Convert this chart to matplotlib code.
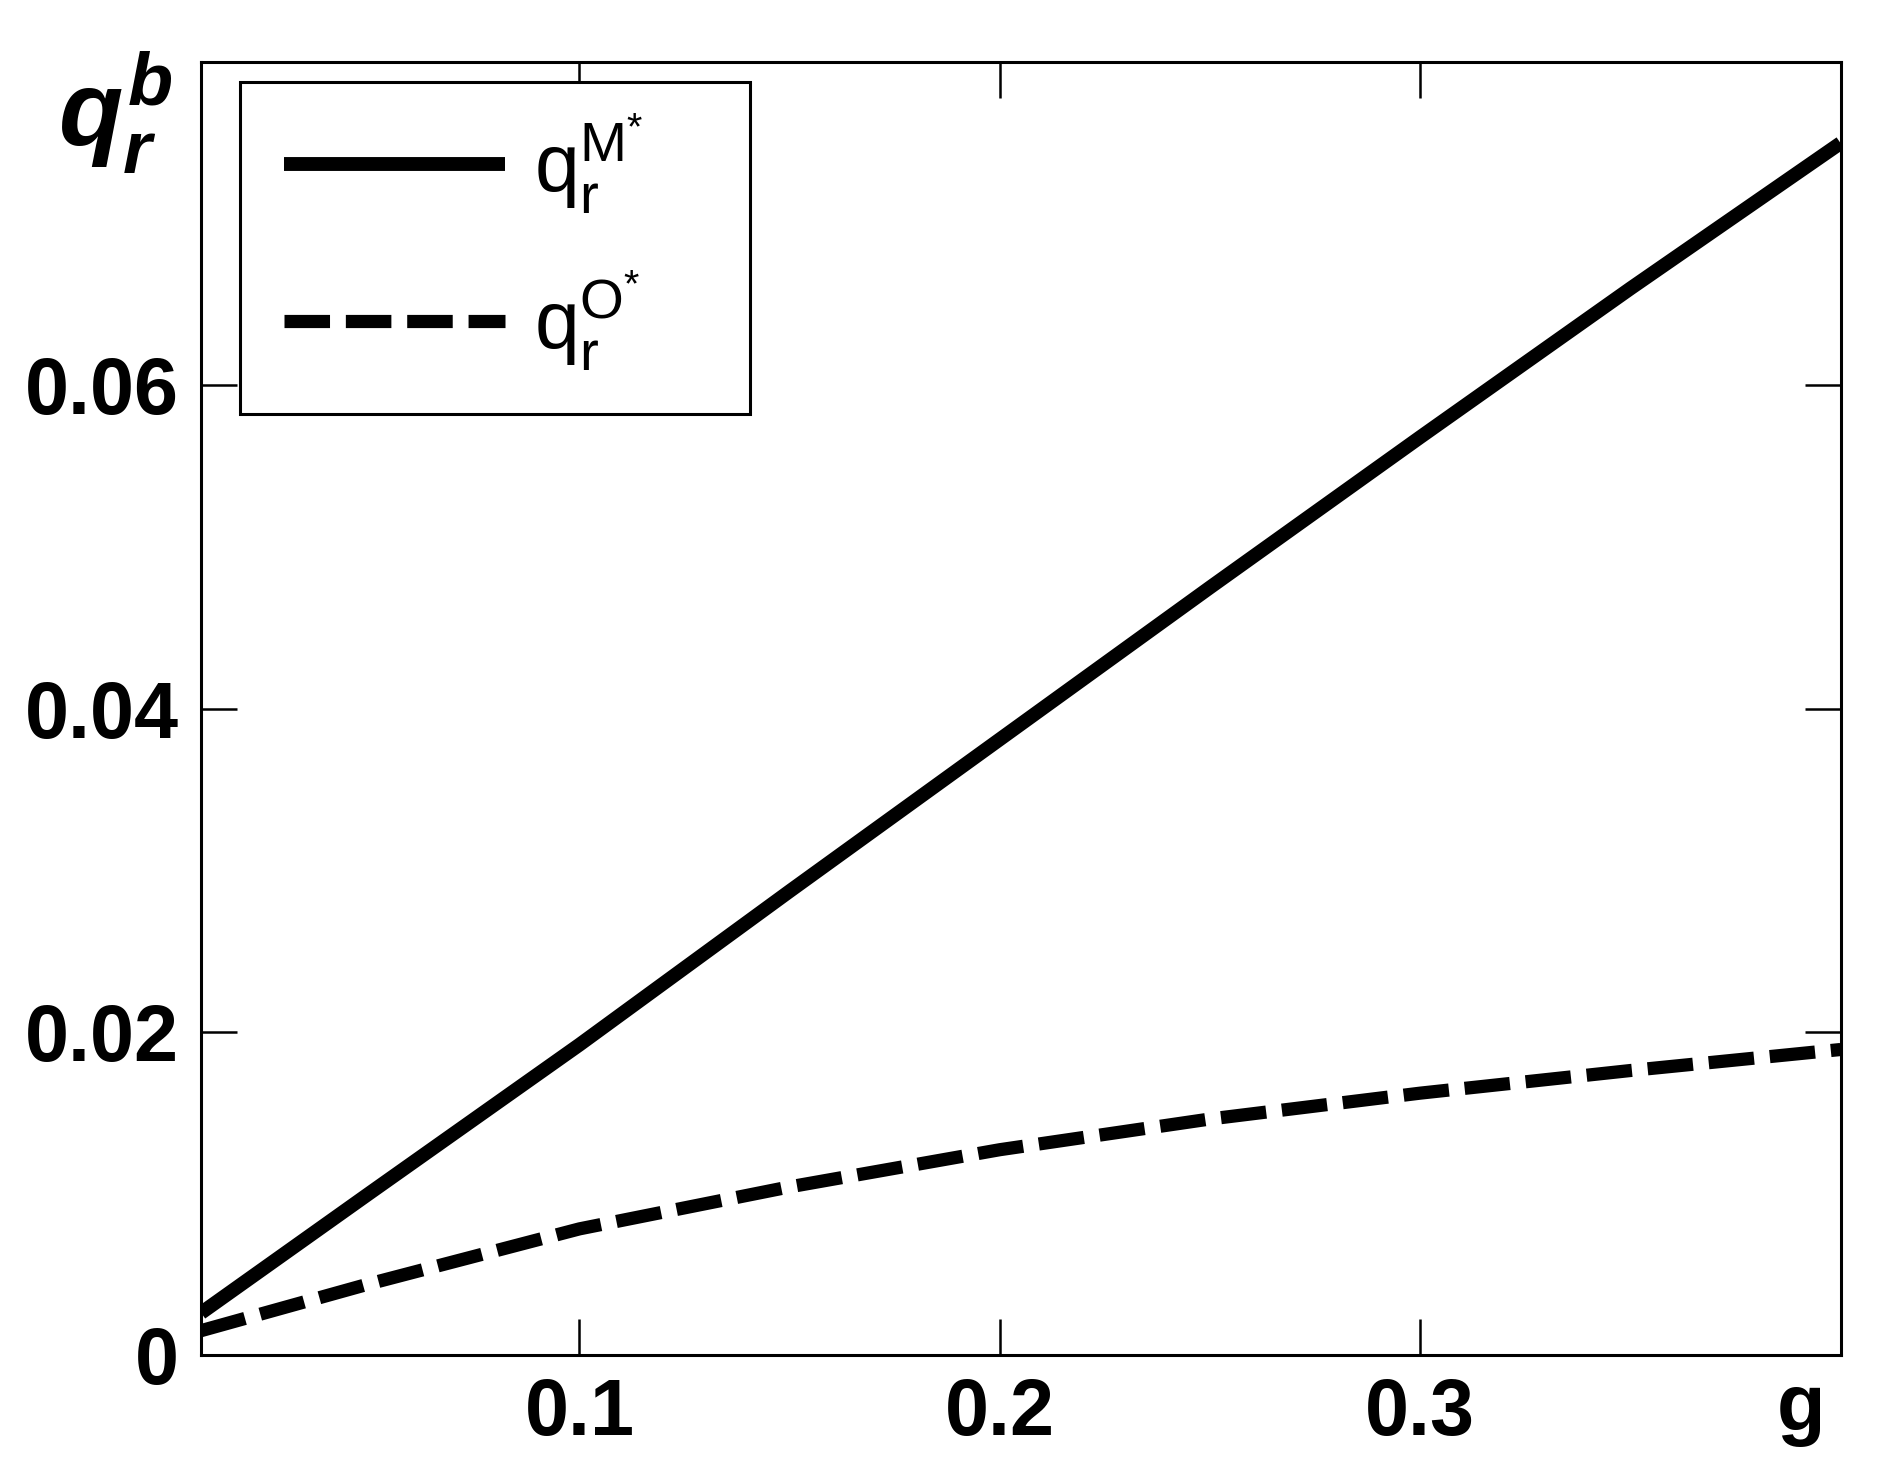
import matplotlib
matplotlib.use("Agg")
import matplotlib.pyplot as plt
import matplotlib.transforms as mtransforms
from matplotlib.patches import Rectangle

g_vals = [0.01, 0.05, 0.10, 0.15, 0.20, 0.25, 0.30, 0.35, 0.40]
q_M = [0.0026, 0.0100, 0.0192, 0.0287, 0.0381, 0.0475, 0.0568, 0.0660, 0.0750]
q_O = [0.0015, 0.0044, 0.0078, 0.0104, 0.0127, 0.0146, 0.0162, 0.0176, 0.0189]

x_ticks = [0.1, 0.2, 0.3, 0.4]
x_ticklabels = ["0.1", "0.2", "0.3", "g"]
y_ticks = [0, 0.02, 0.04, 0.06, 0.08]
y_ticklabels = ["0", "0.02", "0.04", "0.06", ""]

plt.rcParams['font.family'] = ["Liberation Sans", "DejaVu Sans"]
plt.rcParams['mathtext.fontset'] = 'custom'
plt.rcParams['mathtext.rm'] = 'Liberation Sans'
plt.rcParams['mathtext.it'] = 'Liberation Sans:italic:bold'
plt.rcParams['mathtext.bf'] = 'Liberation Sans:bold'

fig = plt.figure(figsize=(18.8, 14.84), dpi=100)
ax = fig.add_axes([0.107, 0.087, 0.872, 0.871])

ax.plot(g_vals, q_M, color='black', lw=10, solid_capstyle='butt',
        solid_joinstyle='round', label=r'$\mathregular{q_r^{M^{*}}}$')
ax.plot(g_vals, q_O, color='black', lw=9.5, dashes=(3.45, 1.2), dash_capstyle='butt',
        label=r'$\mathregular{q_r^{O^{*}}}$')

ax.set_xlim(0.01, 0.4)
ax.set_ylim(0, 0.08)
ax.set_xticks(x_ticks)
ax.set_xticklabels(x_ticklabels)
ax.set_yticks(y_ticks)
ax.set_yticklabels(y_ticklabels)
ax.tick_params(direction='in', length=26, width=1.8, top=True, right=True,
               labelsize=57, pad=16)
for lab in ax.get_xticklabels() + ax.get_yticklabels():
    lab.set_fontweight('bold')
glab = ax.get_xticklabels()[-1]
glab.set_transform(glab.get_transform() + mtransforms.ScaledTranslation(-0.4, 0.05, fig.dpi_scale_trans))
for sp in ax.spines.values():
    sp.set_linewidth(2.2)

# legend frame drawn separately (MATLAB-style wide box)
ax.add_patch(Rectangle((0.1277, 0.721), 0.2713, 0.2237, transform=fig.transFigure,
                       fill=True, facecolor='white', edgecolor='black', lw=2.2,
                       zorder=4, clip_on=False))
leg = ax.legend(loc='upper left', bbox_to_anchor=(0.151, 0.9245),
                bbox_transform=fig.transFigure, fontsize=58,
                frameon=False, handlelength=2.75,
                handletextpad=0.36, labelspacing=0.65, borderpad=0, borderaxespad=0)
leg.set_zorder(5)

fig.text(0.061, 0.9235, r'$q_r^b$', fontsize=76, ha='center', va='center')

fig.savefig("out.png", dpi=100, facecolor='white')
